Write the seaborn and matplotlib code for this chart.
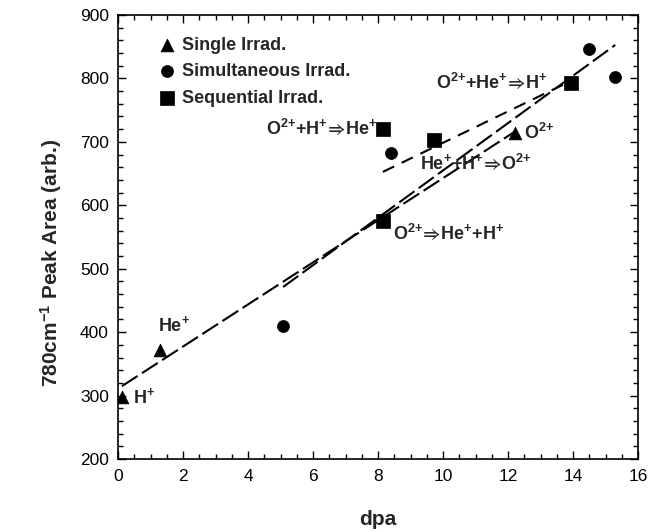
import matplotlib
matplotlib.use("Agg")
import matplotlib.pyplot as plt
import seaborn as sns
import numpy as np
from matplotlib.ticker import MultipleLocator

# ---- data ----
single_x = [0.12, 1.28, 12.2]
single_y = [298, 372, 714]
simul_x = [5.08, 8.4, 14.5, 15.3]
simul_y = [410, 683, 847, 802]
seq_x = [8.15, 8.15, 9.72, 13.94]
seq_y = [721, 576, 703, 793]

sns.set_style("ticks")
plt.rcParams["font.family"] = ["Liberation Sans", "DejaVu Sans"]
plt.rcParams["mathtext.fontset"] = "custom"
plt.rcParams["mathtext.rm"] = "Liberation Sans:bold"
plt.rcParams["mathtext.it"] = "Liberation Sans:bold"
plt.rcParams["mathtext.bf"] = "Liberation Sans:bold"
plt.rcParams["mathtext.default"] = "bf"
plt.rcParams["mathtext.fallback"] = "stixsans"

fig = plt.figure(figsize=(6.6, 5.32), dpi=100)
ax = fig.add_axes([118 / 660, 1 - 459 / 532, 520 / 660, 444 / 532])

lw = 1.5
sns.regplot(x=np.array(single_x), y=np.array(single_y), scatter=False, ci=None, ax=ax,
            line_kws=dict(color="black", lw=lw, dashes=(9, 2.5)))
sns.regplot(x=np.array(simul_x), y=np.array(simul_y), scatter=False, ci=None, ax=ax,
            line_kws=dict(color="black", lw=lw, dashes=(9, 2.5)))
sns.regplot(x=np.array(seq_x), y=np.array(seq_y), scatter=False, ci=None, ax=ax,
            line_kws=dict(color="black", lw=lw, dashes=(6, 4)))

sns.scatterplot(x=single_x, y=single_y, marker="^", s=85, color="black",
                edgecolor="black", linewidth=0.5, label="Single Irrad.", ax=ax, zorder=5)
sns.scatterplot(x=simul_x, y=simul_y, marker="o", s=75, color="black",
                edgecolor="black", linewidth=0.5, label="Simultaneous Irrad.", ax=ax, zorder=5)
sns.scatterplot(x=seq_x, y=seq_y, marker="s", s=115, color="black",
                edgecolor="black", linewidth=0.5, label="Sequential Irrad.", ax=ax, zorder=5)

ax.set_xlim(0, 16)
ax.set_ylim(200, 900)
ax.xaxis.set_major_locator(MultipleLocator(2))
ax.xaxis.set_minor_locator(MultipleLocator(0.5))
ax.yaxis.set_major_locator(MultipleLocator(100))
ax.yaxis.set_minor_locator(MultipleLocator(20))
ax.tick_params(which="both", direction="in", top=True, right=True, width=1, colors="black")
ax.tick_params(which="major", length=6, labelsize=12.5)
ax.tick_params(axis="x", which="major", pad=7)
ax.tick_params(axis="y", which="major", pad=6.5)
ax.tick_params(which="minor", length=3.5)
for t in ax.get_xticklabels() + ax.get_yticklabels():
    t.set_family(["Liberation Sans", "DejaVu Sans"])
for s in ax.spines.values():
    s.set_visible(True)
    s.set_linewidth(1.2)
    s.set_color("black")

ax.set_xlabel("dpa", fontsize=15, fontweight="bold")
ax.set_ylabel("780cm$^{{-}1}$ Peak Area (arb.)", fontsize=15, fontweight="bold")
ax.xaxis.set_label_coords(0.5, -0.115)
ax.yaxis.set_label_coords(-0.104, 0.441)

fs = 13
kw = dict(fontsize=fs, fontweight="bold", va="center", ha="left")
arrow = r"$\!\Rightarrow\!$"
ax.text(0.45, 297, "H$^{{+}}$", **kw)
ax.text(1.22, 412, "He$^{{+}}$", **kw)
ax.text(12.5, 714, "O$^{2{+}}$", **kw)
ax.text(8.45, 557, "O$^{2{+}}$" + arrow + "He$^{{+}}$+H$^{{+}}$", **kw)
ax.text(9.3, 667, "He$^{{+}}$+H$^{{+}}$" + arrow + "O$^{2{+}}$", **kw)
ax.text(9.8, 795, "O$^{2{+}}$+He$^{{+}}$" + arrow + "H$^{{+}}$", **kw)
ax.text(7.97, 722, "O$^{2{+}}$+H$^{{+}}$" + arrow + "He$^{{+}}$", fontsize=fs,
        fontweight="bold", va="center", ha="right")

leg = ax.legend(loc="upper left", bbox_to_anchor=(0.081, 0.951), frameon=False,
                borderpad=0, borderaxespad=0, handlelength=0.8, handletextpad=0.4,
                labelspacing=0.52, prop=dict(size=13, weight="bold"))

fig.savefig("out.png", dpi=100)
